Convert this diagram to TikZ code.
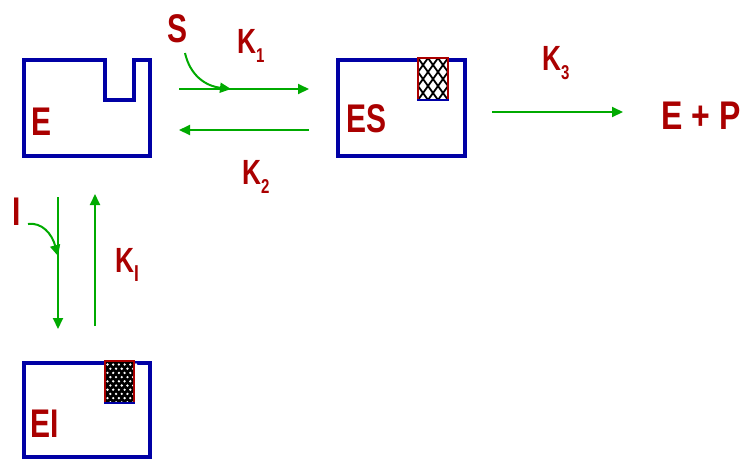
\documentclass[tikz,border=0pt]{standalone}
\usepackage{fontspec}
\setmainfont{Liberation Sans}
\usetikzlibrary{arrows.meta}
\definecolor{boxblue}{RGB}{0,0,165}
\definecolor{lblred}{RGB}{170,0,0}
\definecolor{arrgreen}{RGB}{0,170,0}
\newcommand{\nar}[2][0.75]{\scalebox{#1}[1]{#2}}
\newcommand{\subl}[2][20]{\raisebox{-9.5pt}{\fontsize{#1}{#1}\selectfont #2}}
\tikzset{
  big/.style={text=lblred, font=\fontsize{40}{40}\selectfont\bfseries, inner sep=0pt, anchor=base west},
  klab/.style={text=lblred, font=\fontsize{35}{35}\selectfont\bfseries, inner sep=0pt, anchor=base west},
  enz/.style={draw=boxblue, line width=3.5pt, line join=miter},
  arr/.style={draw=arrgreen, line width=2pt, -{Triangle[length=11pt,width=10pt]}},
  site/.style={draw=lblred, line width=1.5pt},
  sitebot/.style={draw=boxblue, line width=2pt}
}
\begin{document}
\begin{tikzpicture}[x=1pt,y=-1pt]
\useasboundingbox (0,0) rectangle (744,459);
% enzyme E with notch
\draw[enz] (24,60) -- (105,60) -- (105,100) -- (134,100) -- (134,60) -- (150,60) -- (150,156) -- (24,156) -- cycle;
% ES box
\draw[enz] (338,60) rectangle (465,156);
\fill[white] (418,58) rectangle (448,100);
\begin{scope}
  \clip (418,58) rectangle (448,100);
  \foreach \k in {-6,...,6} {
    \draw[black, line width=1.8pt] (418+10*\k,58) -- ++(30,42);
    \draw[black, line width=1.8pt] (448+10*\k,58) -- ++(-30,42);
  }
\end{scope}
\draw[site] (418,100) -- (418,58) -- (448,58) -- (448,100);
\draw[sitebot] (417,100) -- (449,100);
% EI box
\draw[enz] (24,363) rectangle (150,457);
\fill[black] (105,361) rectangle (134,403);
\foreach \j in {0,...,9} {
  \pgfmathsetmacro{\off}{mod(\j,2)*2.85}
  \foreach \i in {0,...,5} {
    \fill[white] (107.5+\off+5.7*\i,364.5+4.2*\j) circle (1.3);
  }
}
\draw[site] (105,403) -- (105,361) -- (134,361) -- (134,403);
\draw[sitebot] (104,403) -- (135,403);
% labels
\node[big] (lE) at (31,135) {\nar{E}};
\node[big] (lS) at (167,42) {\nar{S}};
\node[klab] (lK1) at (237,53) {\nar{K\subl{1}}};
\node[klab] (lK2) at (242,184) {\nar{K\subl{2}}};
\node[big] (lES) at (346,132) {\nar{ES}};
\node[klab] (lK3) at (542,70) {\nar{K\subl{3}}};
\node[big] (lEP) at (661,129) {\nar[0.8]{E + P}};
\node[big] (lI) at (12,225) {\nar{I}};
\node[klab] (lKI) at (115,272) {\nar{K\subl[23]{I}}};
\node[big] (lEI) at (30,437) {\nar{EI}};
% coordinates for arrows
\coordinate (f1) at (179,89);
\coordinate (f2) at (309,89);
\coordinate (b1) at (309,130);
\coordinate (b2) at (179,130);
\coordinate (s1) at (185,53);
\coordinate (s2) at (231,89);
\coordinate (k1) at (492,112);
\coordinate (k2) at (623,112);
\coordinate (d1) at (58,197);
\coordinate (d2) at (58,329);
\coordinate (u1) at (95,326);
\coordinate (u2) at (95,194);
\coordinate (i1) at (28,224);
\coordinate (i2) at (58,256);
% arrows
\draw[arr] (f1) -- (f2);
\draw[arr] (b1) -- (b2);
\draw[arr] (s1) .. controls (190,75) and (205,86) .. (s2);
\draw[arr] (k1) -- (k2);
\draw[arr] (d1) -- (d2);
\draw[arr] (u1) -- (u2);
\draw[arr] (i1) .. controls (42,222) and (52,234) .. (i2);
\end{tikzpicture}
\end{document}
